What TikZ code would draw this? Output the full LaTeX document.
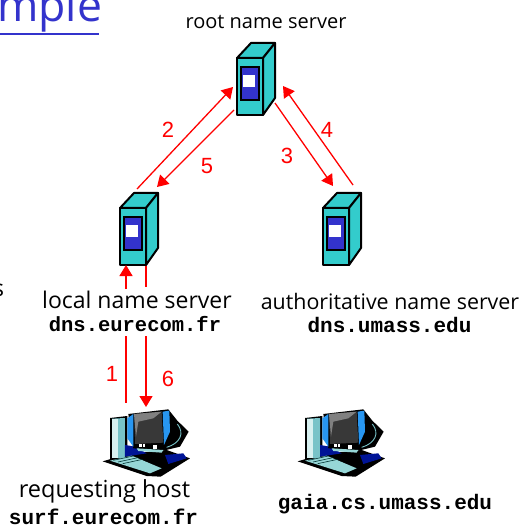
\documentclass[tikz,border=0pt]{standalone}
\usepackage{fontspec}
\setmainfont{Open Sans}
\newfontfamily\codefont{Liberation Mono}
\newfontfamily\numfont{Liberation Sans}
\usetikzlibrary{arrows.meta}
\definecolor{srvteal}{RGB}{51,204,204}
\definecolor{srvblue}{RGB}{51,51,204}
\definecolor{titleblue}{RGB}{51,51,204}
\definecolor{sideblue}{RGB}{40,150,240}
\definecolor{deepblue}{RGB}{0,20,150}
\definecolor{towerpale}{RGB}{215,240,240}
\definecolor{towermid}{RGB}{120,195,200}
\definecolor{keypale}{RGB}{150,215,215}
\tikzset{
  link/.style={draw=red,line width=1.3pt,-{Triangle[length=11pt,width=13pt]}},
  plainlink/.style={draw=red,line width=1.3pt},
  num/.style={text=red,font=\numfont\fontsize{22}{22}\selectfont,inner sep=0pt},
  lbl/.style={text=black,inner sep=0pt},
  code/.style={text=black,inner sep=0pt},
  sv/.style={draw=black,line width=2pt,line join=round,fill=srvteal},
}
\newcommand{\lblsize}[1]{\fontsize{#1}{#1}\selectfont}
\newcommand{\codesize}[1]{\codefont\bfseries\fontsize{#1}{#1}\selectfont}
\newcommand{\serverat}[2]{%
\begin{scope}[shift={(#1,#2)}]
  \draw[sv] (0,0) -- (14,-15) -- (38,-15) -- (26,0) -- cycle;
  \draw[sv] (26,0) -- (38,-15) -- (38,40) -- (26,57) -- cycle;
  \draw[sv] (0,0) rectangle (26,57);
  \draw[draw=black,line width=2pt,fill=srvblue] (4,9) rectangle (22,42);
  \fill[white] (6,17) rectangle (18,29);
\end{scope}}
\newcommand{\hostat}[2]{%
\begin{scope}[shift={(#1,#2)},x=0.3333pt,y=-0.3333pt]
  \fill[black] (38,214) -- (115,192) -- (230,180) -- (300,205) -- (212,260) -- (170,258) -- cycle;
  \fill[black] (60,84) -- (112,78) -- (112,212) -- (60,212) -- cycle;
  \fill[towermid] (66,86) -- (105,84) -- (105,204) -- (66,204) -- cycle;
  \fill[towerpale] (66,88) rectangle (84,204);
  \fill[deepblue] (105,165) -- (135,170) -- (170,190) -- (105,200) -- cycle;
  \fill[deepblue] (225,195) -- (280,190) -- (290,205) -- (235,222) -- cycle;
  \fill[keypale] (60,212) -- (125,197) -- (215,235) -- (180,250) -- cycle;
  \foreach \k in {0,1,2} \draw[black!60!teal,line width=.6pt] (70+\k*14,211+\k*5) -- (130+\k*14,198+\k*5);
  \fill[black] (115,72) -- (235,58) -- (262,92) -- (296,125) -- (270,170) -- (220,182) -- (130,175) -- cycle;
  \fill[sideblue] (112,85) -- (130,72) -- (130,170) -- (112,145) -- cycle;
  \fill[sideblue] (218,65) -- (238,62) -- (240,125) -- (222,165) -- cycle;
  \draw[towermid,line width=.9pt] (262,102) .. controls (285,130) and (270,160) .. (230,172);
  \fill[black!78] (132,72) -- (215,65) -- (220,158) -- (135,162) -- cycle;
  \fill[black!50] (132,72) -- (215,65) -- (190,85) -- (145,95) -- (138,140) -- cycle;
  \fill[white] (148,163) rectangle (155,170);
  \fill[white] (160,163) rectangle (166,170);
  \fill[white] (190,165) rectangle (200,177);
  \fill[keypale] (140,175) -- (220,180) -- (215,188) -- (145,183) -- cycle;
\end{scope}}
\begin{document}
\begin{tikzpicture}[x=1pt,y=-1pt]
\useasboundingbox (0,0) rectangle (520,526);
\fill[white] (0,0) rectangle (520,526);
\serverat{237}{58}
\serverat{120}{208}
\serverat{323}{208}
\hostat{90}{390}
\hostat{285}{390}
\node[anchor=base west,text=titleblue,font=\fontsize{44.5}{44.5}\selectfont,inner sep=0pt] (title) at (-3,22) {mple};
\draw[titleblue,line width=1.6pt] (0,34) -- (99,34);
\node[anchor=base west,lbl,font=\lblsize{23}] (frag) at (-7,296) {s};
\node[lbl,font=\lblsize{20}] (root) at (266,22) {root name server};
\node[lbl,font=\lblsize{23}] (local) at (137,300) {local name server};
\node[code,font=\codesize{20.5}] (localdns) at (135,324) {dns.eurecom.fr};
\node[lbl,font=\lblsize{21.4}] (auth) at (390,301) {authoritative name server};
\node[code,font=\codesize{21}] (authdns) at (389.5,325) {dns.umass.edu};
\node[lbl,font=\lblsize{23.5}] (req) at (104.5,491) {requesting host};
\node[code,font=\codesize{21}] (surf) at (103.5,516.5) {surf.eurecom.fr};
\node[code,font=\codesize{21}] (gaia) at (385,504) {gaia.cs.umass.edu};
\node[num] (n2) at (168,130) {2};
\node[num] (n5) at (207,166) {5};
\node[num] (n3) at (287,156) {3};
\node[num] (n4) at (327,130) {4};
\node[num] (n1) at (112,374) {1};
\node[num] (n6) at (168,379) {6};
\coordinate (a2s) at (137,189); \coordinate (a2e) at (233,87);
\coordinate (a5s) at (234,110); \coordinate (a5e) at (157,187);
\coordinate (a3s) at (275,103); \coordinate (a3e) at (333,186);
\coordinate (a4s) at (353,185); \coordinate (a4e) at (283,86);
\coordinate (u1s) at (126,289); \coordinate (u1e) at (126,265);
\coordinate (u2s) at (146,266); \coordinate (u2e) at (146,287);
\coordinate (d1s) at (126,336); \coordinate (d1e) at (126,403);
\coordinate (d2s) at (146,336); \coordinate (d2e) at (146,407);
\draw[link] (a2s) -- (a2e);
\draw[link] (a5s) -- (a5e);
\draw[link] (a3s) -- (a3e);
\draw[link] (a4s) -- (a4e);
\draw[link] (u1s) -- (u1e);
\draw[plainlink] (u2s) -- (u2e);
\draw[plainlink] (d1s) -- (d1e);
\draw[link] (d2s) -- (d2e);
\end{tikzpicture}
\end{document}
